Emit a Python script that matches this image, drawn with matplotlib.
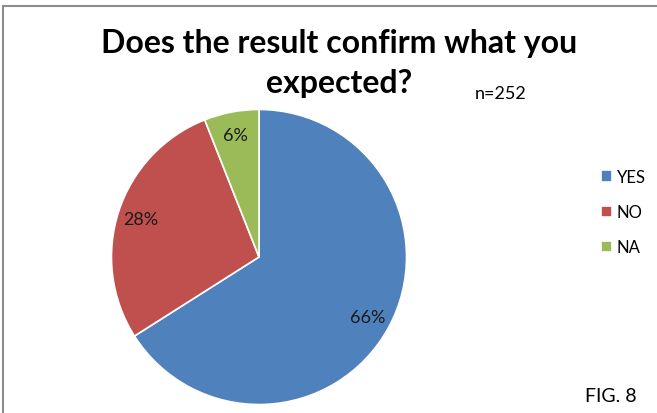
import matplotlib
matplotlib.use("Agg")
import matplotlib.pyplot as plt
from matplotlib.patches import Rectangle

plt.rcParams['font.family'] = ['Lato', 'DejaVu Sans']

labels = ['YES', 'NO', 'NA']
shares = [66, 28, 6]
colors = ['#4F81BD', '#C0504D', '#9BBB59']

W, H = 657, 414
fig = plt.figure(figsize=(W / 100, H / 100), dpi=100)

# gray frame, runs off the right and bottom edge
fig.patches.append(Rectangle((3 / W, -0.1), 1.2, 1 - 7 / H + 0.1, transform=fig.transFigure,
                             fill=False, edgecolor='#8c8c8c', linewidth=1.5))

cx, cy, r = 259, 258, 149
ax = fig.add_axes([(cx - r) / W, (H - cy - r) / H, 2 * r / W, 2 * r / H])
wedges, _, autotexts = ax.pie(shares, colors=colors, startangle=90, counterclock=False,
                              autopct='%d%%', pctdistance=0.84,
                              wedgeprops=dict(edgecolor='white', linewidth=1.2),
                              textprops=dict(fontsize=13, color='#1a1a1a'))
ax.set_xlim(-1.01, 1.01)
ax.set_ylim(-1.01, 1.01)
ax.set_aspect('equal')
ax.axis('off')

fig.text(339 / W, 1 - 44 / H, 'Does the result confirm what you', ha='center', va='center',
         fontsize=23, fontweight='bold')
fig.text(339 / W, 1 - 84 / H, 'expected?', ha='center', va='center',
         fontsize=23, fontweight='bold')
fig.text(501 / W, 1 - 94 / H, 'n=252', ha='center', va='center', fontsize=13)
fig.text(611 / W, 1 - 397 / H, 'FIG. 8', ha='center', va='center', fontsize=14)

fig.legend(wedges, labels, loc='center left', bbox_to_anchor=(586 / W, 1 - 213 / H),
           frameon=False, fontsize=12, handlelength=0.65, handleheight=0.65,
           handletextpad=0.3, labelspacing=1.15)

fig.savefig('out.png', dpi=100)
